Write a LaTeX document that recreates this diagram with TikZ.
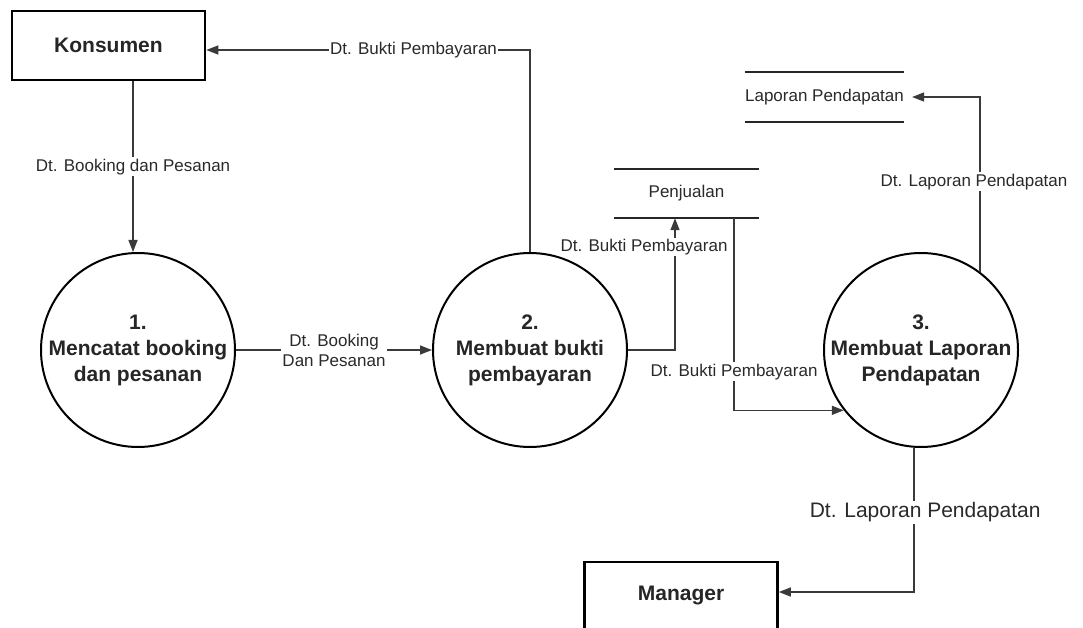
\documentclass[tikz,border=0pt]{standalone}
\usepackage{fontspec}
\setmainfont{Liberation Sans}
\usetikzlibrary{arrows.meta}
\definecolor{linegray}{HTML}{3A3A3A}
\definecolor{darktext}{HTML}{2A2A2A}
\begin{document}
\begin{tikzpicture}[x=1pt,y=-1pt,
  entity/.style={draw=black, line width=2.6pt, minimum width=193pt, minimum height=69pt,
    inner sep=0pt, font=\fontsize{21}{25}\selectfont\bfseries, text=black!85},
  process/.style={circle, draw=black, line width=2pt, minimum size=194pt, inner sep=0pt,
    align=center, font=\fontsize{21}{26}\selectfont\bfseries, text=black!85},
  store/.style={minimum width=145pt, minimum height=49pt, inner sep=0pt,
    font=\fontsize{17}{20}\selectfont, text=darktext},
  storeline/.style={draw=black!85, line width=2pt},
  flow/.style={draw=linegray, line width=1.4pt, -{Triangle[length=12pt,width=9pt]}},
  lbl/.style={fill=white, inner sep=1.5pt, font=\fontsize{17}{20}\selectfont,
    text=darktext, align=center},
  biglbl/.style={lbl, font=\fontsize{21}{24}\selectfont},
]
\useasboundingbox (0,0) rectangle (1083,628);
\fill[white] (0,0) rectangle (1083,628);
\clip (0,0) rectangle (1083,628);

% external entities
\node[entity] (konsumen) at (108.5,45.5) {Konsumen};
\node[entity, minimum height=72pt] (manager) at (681,598) {};
\node[font=\fontsize{21}{25}\selectfont\bfseries, text=black!85] (managertxt) at (681,595) {Manager};

% processes
\node[process] (p1) at (138,350) {1.\\Mencatat booking\\dan pesanan};
\node[process] (p2) at (530,350) {2.\\Membuat bukti\\pembayaran};
\node[process] (p3) at (921,350) {3.\\Membuat Laporan\\Pendapatan};

% data stores
\node[store] (pj) at (686.5,193.5) {Penjualan};
\draw[storeline] (pj.north west) -- (pj.north east) (pj.south west) -- (pj.south east);
\node[store] (lp) at (824.5,97) {Laporan Pendapatan};
\draw[storeline] (lp.north west) -- (lp.north east) (lp.south west) -- (lp.south east);

% data flows
\draw[flow] ([xshift=-5pt]konsumen.south -| p1.north) -- ([xshift=-5pt]p1.north)
  node[lbl, midway] {Dt. Booking dan Pesanan};
\draw[flow] (p1.east) -- (p2.west)
  node[lbl, midway] {Dt. Booking\\Dan Pesanan};
\draw[flow] (p2.north) |- ([yshift=-4.5pt]konsumen.east)
  node[lbl, pos=0.68] {Dt. Bukti Pembayaran};
\draw[flow] (p2.east) -| ([xshift=-11.5pt]pj.south);
\node[lbl] (lblpj) at (644,247) {Dt. Bukti Pembayaran};
\draw[flow] ([xshift=47.5pt]pj.south) |- (p3.218)
  node[lbl, pos=0.4] {Dt. Bukti Pembayaran};
\draw[flow] (p3.53) |- ([xshift=8pt]lp.east)
  node[lbl, pos=0.257, xshift=-6pt] {Dt. Laporan Pendapatan};
\draw[flow] (p3.266) |- ([yshift=6pt]manager.east)
  node[biglbl, pos=0.224, xshift=11pt] {Dt. Laporan Pendapatan};
\end{tikzpicture}
\end{document}
